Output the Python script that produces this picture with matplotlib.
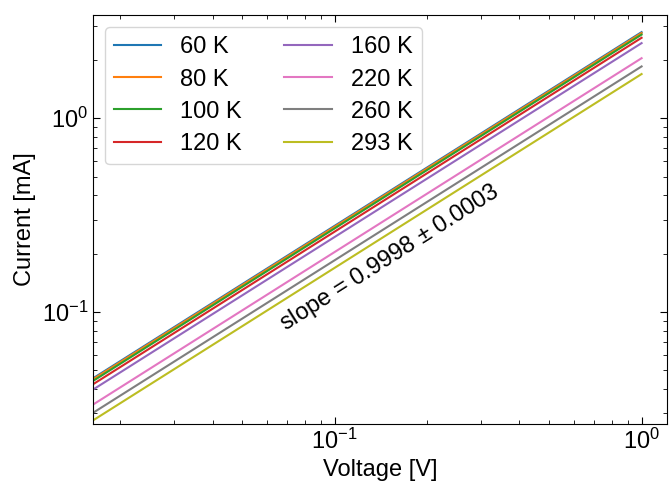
import matplotlib
matplotlib.use('Agg')
import matplotlib.pyplot as plt

plt.rcParams['font.family'] = ['Liberation Sans', 'DejaVu Sans']
plt.rcParams['mathtext.fontset'] = 'custom'
plt.rcParams['mathtext.rm'] = 'Liberation Sans'
plt.rcParams['mathtext.it'] = 'Liberation Sans:italic'

# current at the left edge and at 1 V (straight lines on log-log)
voltage = [0.0163, 1.0]
temps = ['60 K', '80 K', '100 K', '120 K', '160 K', '220 K', '260 K', '293 K']
current_low = [0.0455, 0.0450, 0.0441, 0.0424, 0.0398, 0.0333, 0.0302, 0.0276]
current_high = [2.78, 2.75, 2.70, 2.60, 2.44, 2.04, 1.85, 1.69]
colors = ['C0', 'C1', 'C2', 'C3', 'C4', 'C6', 'C7', 'C8']

fig, ax = plt.subplots(figsize=(6.69, 4.9), dpi=100)
for t, lo, hi, c in zip(temps, current_low, current_high, colors):
    ax.plot(voltage, [lo, hi], color=c, linewidth=1.5, label=t)

ax.set_xscale('log')
ax.set_yscale('log')
ax.set_xlim(0.0163, 1.21)
ax.set_ylim(0.0265, 3.4)
ax.set_xlabel('Voltage [V]', fontsize=17)
ax.set_ylabel('Current [mA]', fontsize=17)
ax.tick_params(which='both', direction='in', top=True, right=True, labelsize=17)
ax.tick_params(which='major', length=5)
ax.tick_params(which='minor', length=3)

ax.text(0.151, 0.19, 'slope = 0.9998 $\\pm$ 0.0003', rotation=32.3,
        ha='center', va='center', fontsize=17)
ax.legend(ncol=2, loc='upper left', fontsize=17, handlelength=2.0,
          columnspacing=1.8, labelspacing=0.43)

plt.subplots_adjust(left=0.139, right=0.997, top=0.969, bottom=0.135)
plt.savefig('out.png', dpi=100)
